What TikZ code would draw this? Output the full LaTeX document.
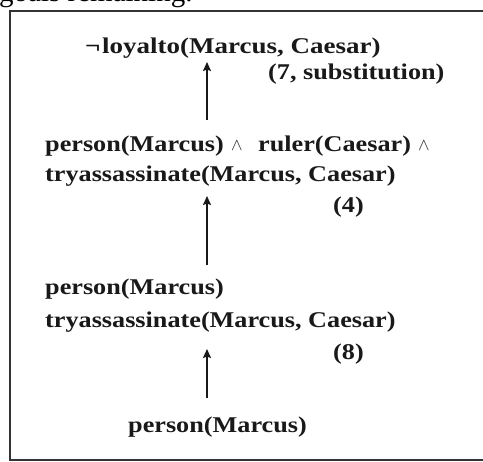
\documentclass[tikz,border=0pt]{standalone}
\usepackage{fontspec}
\setmainfont{Liberation Serif}
\newfontfamily\camb[FakeStretch=1.165]{Liberation Serif}
\newfontfamily\cambw[FakeStretch=1.2]{Liberation Serif}
\usetikzlibrary{arrows.meta}
\begin{document}
\begin{tikzpicture}[x=1pt,y=-1pt,
  lbl/.style={inner sep=0pt,anchor=base west,font=\camb\bfseries\fontsize{22.5}{25}\selectfont,text=black!90},
  andop/.style={inner sep=0pt,anchor=base west,font=\fontsize{18}{20}\selectfont,text=black!85},
  arr/.style={line width=1.6pt,draw=black!90,-{Stealth[length=9pt,width=8pt,inset=1.5pt]}}]
\useasboundingbox (0,0) rectangle (483,462);
\fill[white] (0,0) rectangle (483,462);
\node[inner sep=0pt,anchor=base west,font=\fontsize{29}{31}\selectfont] (goals) at (-1,1.5) {goals remaining.};
\draw[line width=1.6pt,draw=black!80] (10,11) rectangle (495,460);
% nodes
\node[lbl,font=\cambw\bfseries\fontsize{22.5}{25}\selectfont] (g1) at (85,54) {¬\hspace{1.5pt}loyalto(Marcus, Caesar)};
\node[lbl] (j1) at (268,80) {(7, substitution)};
\node[lbl] (g2a) at (45,152) {person(Marcus)};
\node[andop] (and1) at (231,151) {$\wedge$};
\node[lbl] (g2c) at (258,152) {ruler(Caesar)};
\node[andop] (and2) at (418,151) {$\wedge$};
\node[lbl] (g2b) at (45,182) {tryassassinate(Marcus, Caesar)};
\node[lbl] (j2) at (333,213) {(4)};
\node[lbl] (g3a) at (45,295) {person(Marcus)};
\node[lbl] (g3b) at (45,328) {tryassassinate(Marcus, Caesar)};
\node[lbl] (j3) at (333,360) {(8)};
\node[lbl] (g4) at (128,433) {person(Marcus)};
% arrows
\coordinate (a1s) at (207,120);
\coordinate (a1e) at (207,62);
\coordinate (a2s) at (207,265);
\coordinate (a2e) at (207,196);
\coordinate (a3s) at (207,398);
\coordinate (a3e) at (207,349);
\draw[arr] (a1s) -- (a1e);
\draw[arr] (a2s) -- (a2e);
\draw[arr] (a3s) -- (a3e);
\end{tikzpicture}
\end{document}
